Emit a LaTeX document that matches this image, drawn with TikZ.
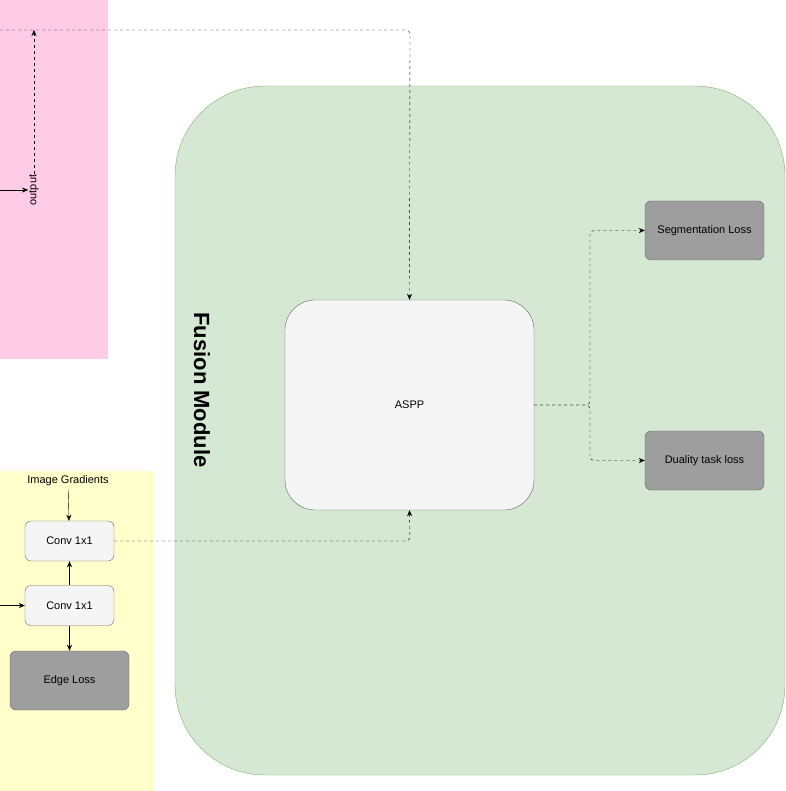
\documentclass[tikz,border=0pt]{standalone}
\usepackage{fontspec}
\setmainfont{Liberation Sans}
\usetikzlibrary{positioning}
\usetikzlibrary{arrows.meta}
\definecolor{pinkbg}{HTML}{FFCCE6}
\definecolor{yellowbg}{HTML}{FFFFCC}
\definecolor{greenbg}{HTML}{D5E8D4}
\definecolor{greenln}{HTML}{82B366}
\definecolor{boxbg}{HTML}{F5F5F5}
\definecolor{lossbg}{HTML}{9E9E9E}
\definecolor{boxln}{HTML}{666666}
\begin{document}
\begin{tikzpicture}[x=1pt,y=-1pt,>={Stealth[length=6pt,width=5pt]},
		font=\fontsize{11}{13}\selectfont]
		\tikzset{layer/.style={draw=boxln,fill=boxbg,rounded corners=6pt,minimum width=89pt,minimum height=40pt,inner sep=0pt},
			loss/.style={draw=boxln,fill=lossbg,rounded corners=6pt,minimum width=119pt,minimum height=59pt,inner sep=0pt},
			link/.style={->,dashed,rounded corners=4pt}}
		\useasboundingbox (0,0) rectangle (785,791);
		
		\fill[pinkbg] (0,0) rectangle (108,359);
		\fill[yellowbg] (0,471) rectangle (154,791);
		\draw[greenln,fill=greenbg,rounded corners=90pt] (175,86) rectangle (785,775);
		\node[rotate=-90,font=\fontsize{22}{26}\selectfont\bfseries] (fusion) at (202,390) {Fusion Module};
		
		\node[draw=boxln,fill=boxbg,rounded corners=30pt,minimum width=249pt,minimum height=210pt] (aspp) at (409.5,405) {ASPP};
		\node[loss] (seg)  at (704.5,230.5) {Segmentation Loss};
		\node[loss] (dual) at (704.5,460.5) {Duality task loss};
		
		\node (grad) at (68,481) {Image Gradients};
		\node[layer] (conva) at (69.5,541) {Conv 1x1};
		\node[layer] (convb) at (69.5,605.5) {Conv 1x1};
		\node[loss] (edge) at (69.5,680.5) {Edge Loss};
		\node[rotate=90,inner sep=1pt] (out) at (34,190) {output};
		\coordinate (inb) at (0,605.5);
		\coordinate (ina) at (0,190);
		\coordinate (top) at (0,30);
		
		\draw[->] (grad) -- (conva);
		\draw[->] (convb) -- (conva);
		\draw[->] (convb) -- (edge);
		\draw[->] (inb) -- (convb);
		\draw[->] (ina) -- (out.north);
		\draw[link] (out.east) -- (34,30);
		\draw[link] (top) -- (410,30) -- (aspp.north);
		\draw[link] (conva.east) -- (410,541) -- (aspp.south);
		\draw[link] (aspp.east) -- (590,405) -- (590,230.5) -- (seg.west);
		\draw[link] (aspp.east) -- (590,405) -- (590,460.5) -- (dual.west);
\end{tikzpicture}
\end{document}
